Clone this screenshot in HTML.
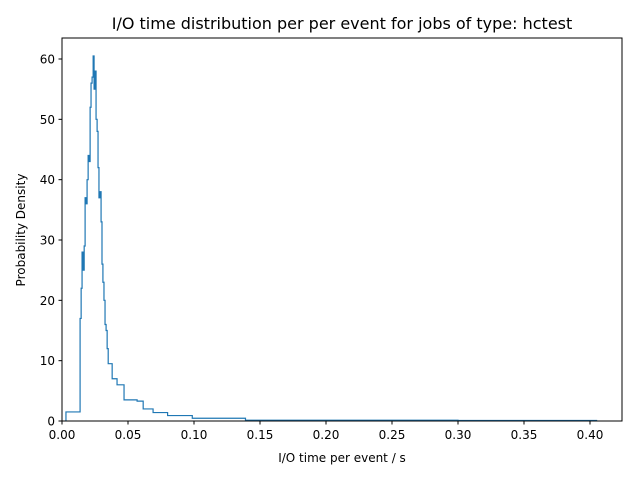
<!DOCTYPE html>
<html><head><meta charset="utf-8"><style>
body{margin:0;background:#fff;}
svg text{font-family:"DejaVu Sans","Liberation Sans",sans-serif;fill:#000;}
</style></head><body>
<svg id="chart" width="640" height="480" xmlns="http://www.w3.org/2000/svg">
<rect width="640" height="480" fill="#fff"/>
<text x="342" y="29" font-size="16" text-anchor="middle">I/O time distribution per per event for jobs of type: hctest</text>
<g id="ticks"></g>
<path id="hist" fill="none" stroke="#1f77b4" stroke-width="1.2"/>
<rect x="62" y="38" width="560" height="383" fill="none" stroke="#000" stroke-width="1"/>
<text x="342" y="462" font-size="12" text-anchor="middle">I/O time per event / s</text>
<text transform="translate(25,230) rotate(-90)" font-size="12" text-anchor="middle">Probability Density</text>
</svg>
<script>
const edges=[0.003,0.0137,0.0145,0.0152,0.016,0.0168,0.0175,0.0183,0.019,0.0198,0.0205,0.0213,0.022,0.0228,0.0236,0.0243,0.025,0.0258,0.0266,0.0273,0.028,0.0288,0.0296,0.0303,0.031,0.0318,0.0326,0.0334,0.0342,0.035,0.038,0.0417,0.047,0.0569,0.0615,0.069,0.08,0.0987,0.139,0.30,0.405];
const density=[1.5,17,22,28,25,29,37,36,40,44,43,52,56,57,60.5,55,58,50,48,42,37,38,33,26,23,20,16,15,12,9.5,7,6,3.5,3.3,2,1.4,0.9,0.45,0.12,0.08];
const xTicks=[0,0.05,0.10,0.15,0.20,0.25,0.30,0.35,0.40];
const xTickLabels=["0.00","0.05","0.10","0.15","0.20","0.25","0.30","0.35","0.40"];
const yTicks=[0,10,20,30,40,50,60];
const X=v=>62+v*(590-62)/0.40;
const Y=v=>421-v*(421-59)/60;
const ns="http://www.w3.org/2000/svg";
const g=document.getElementById('ticks');
function mk(t,a,p){const e=document.createElementNS(ns,t);for(const k in a)e.setAttribute(k,a[k]);p.appendChild(e);return e;}
xTicks.forEach((v,i)=>{
 const l=mk('line',{x1:X(v),x2:X(v),y1:421,y2:424.5,stroke:'#000'},g);
 
 
 const t=mk('text',{x:X(v),y:439,'font-size':12,'text-anchor':'middle'},g);t.textContent=xTickLabels[i];
 
 
});
yTicks.forEach(v=>{
 const l=mk('line',{x1:58.5,x2:62,y1:Y(v),y2:Y(v),stroke:'#000'},g);
 
 
 const t=mk('text',{x:55,y:Y(v)+4.5,'font-size':12,'text-anchor':'end'},g);t.textContent=v;
 
 
});
let d='M'+X(edges[0])+','+Y(0);
density.forEach((v,i)=>{d+=' L'+X(edges[i])+','+Y(v)+' L'+X(edges[i+1])+','+Y(v);});
d+=' L'+X(edges[edges.length-1])+','+Y(0);
document.getElementById('hist').setAttribute('d',d);
</script>
</body></html>
